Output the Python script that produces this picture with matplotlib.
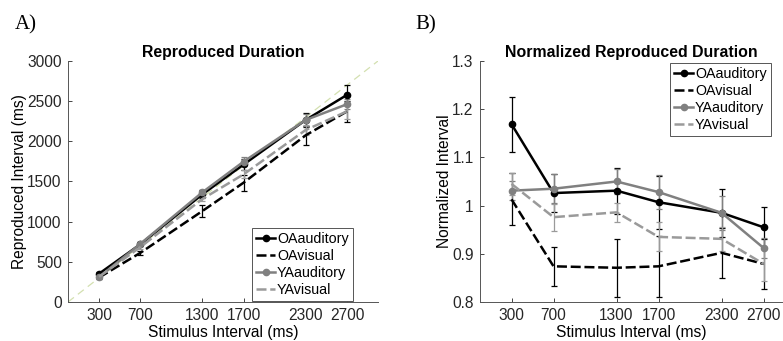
import matplotlib.pyplot as plt
from matplotlib.lines import Line2D

plt.rcParams['font.family'] = ['Liberation Sans', 'DejaVu Sans']

# stimulus intervals (ms)
stim = [300, 700, 1300, 1700, 2300, 2700]
labels = ['OAauditory', 'OAvisual', 'YAauditory', 'YAvisual']

# reproduced duration (ms)
rep_oa_aud = [352, 718, 1340, 1712, 2266, 2578]
rep_oa_vis = [304, 612, 1132, 1486, 2075, 2373]
rep_ya_aud = [309, 724, 1365, 1748, 2266, 2462]
rep_ya_vis = [314, 683, 1282, 1590, 2141, 2373]
rep_err_oa_aud = [20, 25, 50, 70, 90, 120]
rep_err_oa_vis = [20, 25, 70, 100, 115, 130]
rep_err_ya_aud = [10, 20, 35, 55, 80, 60]
rep_err_ya_vis = [10, 20, 30, 50, 60, 90]

# normalized reproduced duration
norm_oa_aud = [1.169, 1.026, 1.031, 1.007, 0.985, 0.955]
norm_oa_vis = [1.013, 0.874, 0.871, 0.874, 0.902, 0.879]
norm_ya_aud = [1.031, 1.035, 1.050, 1.028, 0.985, 0.912]
norm_ya_vis = [1.045, 0.976, 0.986, 0.935, 0.931, 0.879]
norm_err_oa_aud = [0.057, 0.040, 0.048, 0.055, 0.050, 0.043]
norm_err_oa_vis = [0.054, 0.041, 0.060, 0.063, 0.052, 0.052]
norm_err_ya_aud = [0.020, 0.030, 0.025, 0.035, 0.035, 0.020]
norm_err_ya_vis = [0.022, 0.028, 0.020, 0.030, 0.025, 0.035]

# stil je serie
styles = [
    dict(color='black', ls='-', marker='o', ms=4.5, lw=1.8),
    dict(color='black', ls=(0, (4, 1.5)), marker=None, lw=1.8),
    dict(color='#808080', ls='-', marker='o', ms=4.5, lw=1.8),
    dict(color='#9a9a9a', ls=(0, (4, 1.5)), marker=None, lw=1.8),
]

fig = plt.figure(figsize=(7.83, 3.41), dpi=100)
ax1 = fig.add_axes([68 / 783, 0.1144, 310 / 783, 0.7067])
ax2 = fig.add_axes([480 / 783, 0.1144, 302 / 783, 0.7067])

rep = [rep_oa_aud, rep_oa_vis, rep_ya_aud, rep_ya_vis]
rep_err = [rep_err_oa_aud, rep_err_oa_vis, rep_err_ya_aud, rep_err_ya_vis]
norm = [norm_oa_aud, norm_oa_vis, norm_ya_aud, norm_ya_vis]
norm_err = [norm_err_oa_aud, norm_err_oa_vis, norm_err_ya_aud, norm_err_ya_vis]

# Diagonale
ax1.plot([0, 3000], [0, 3000], ls=(0, (6, 4)), color='#d3e0b0', lw=0.9, zorder=1)

for ax, ys, es in [(ax1, rep, rep_err), (ax2, norm, norm_err)]:
    for y, e, st in zip(ys, es, styles):
        st = dict(st)
        c = st.pop('color')
        ax.errorbar(stim, y, yerr=e, color=c, capsize=2.2, elinewidth=0.9,
                    capthick=0.9, zorder=3, **st)

ax1.set_xlim(0, 3000)
ax1.set_ylim(0, 3000)
ax1.set_yticks([0, 500, 1000, 1500, 2000, 2500, 3000])
ax1.set_title('Reproduced Duration', fontsize=11.4, fontweight='bold', pad=3)
ax1.set_ylabel('Reproduced Interval (ms)', fontsize=11.2, labelpad=0)

ax2.set_xlim(0, 2875)
ax2.set_ylim(0.8, 1.3)
ax2.set_yticks([0.8, 0.9, 1.0, 1.1, 1.2, 1.3])
ax2.set_yticklabels(['0.8', '0.9', '1', '1.1', '1.2', '1.3'])
ax2.set_title('Normalized Reproduced Duration', fontsize=11.4, fontweight='bold', pad=3)
ax2.set_ylabel('Normalized Interval', fontsize=11.2, labelpad=0)

for ax in (ax1, ax2):
    ax.set_xticks(stim)
    ax.set_xlabel('Stimulus Interval (ms)', fontsize=11.2, labelpad=1)
    ax.tick_params(direction='in', length=3, labelsize=11.2, colors='#262626',
                   width=0.6, pad=4.5)
    for s in ('top', 'right'):
        ax.spines[s].set_visible(False)
    for s in ('left', 'bottom'):
        ax.spines[s].set_color('#555555')
        ax.spines[s].set_linewidth(0.7)

# Legende ohne Fehlerbalken
handles = []
for st in styles:
    h = dict(st)
    handles.append(Line2D([], [], color=h.pop('color'), **h))

for ax, anchor in [(ax1, (252 / 783, 1 - 228 / 341)), (ax2, (670 / 783, 1 - 63 / 341))]:
    leg = ax.legend(handles, labels, loc='upper left', bbox_to_anchor=anchor,
                    bbox_transform=fig.transFigure, fontsize=10.3,
                    handlelength=1.3, handletextpad=0.15, borderpad=0.3,
                    labelspacing=0.2, fancybox=False, framealpha=1,
                    edgecolor='#555555', borderaxespad=0)
    leg.get_frame().set_linewidth(0.7)

fig.text(15 / 783, 0.915, 'A)', fontsize=15, family='Liberation Serif')
fig.text(415 / 783, 0.915, 'B)', fontsize=15, family='Liberation Serif')

plt.savefig('out.png', dpi=100)
